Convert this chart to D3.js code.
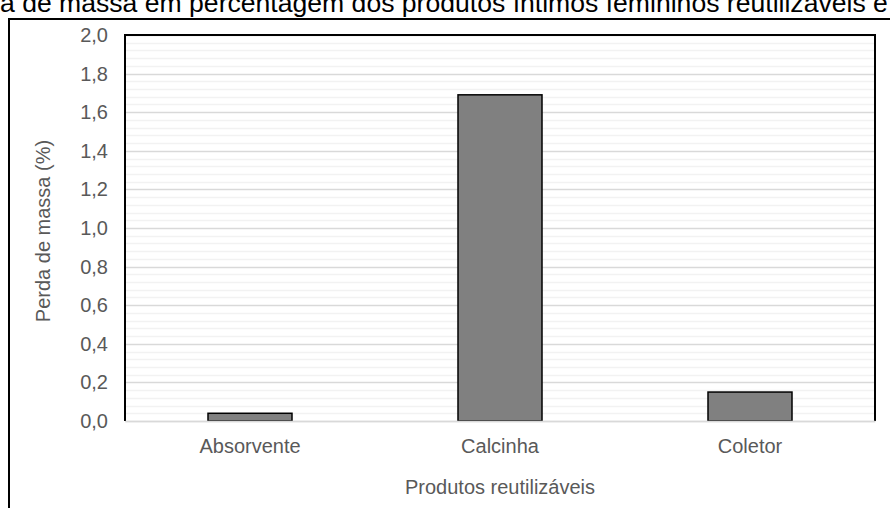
<!DOCTYPE html>
<html><head><meta charset="utf-8">
<script src="https://cdn.jsdelivr.net/npm/d3@7"></script>
<style>body{margin:0;background:#fff}svg{display:block}text{font-family:"Liberation Sans",Arial,sans-serif}</style>
</head><body><svg id="c" width="890" height="508"></svg>
<script>
const categories = ["Absorvente", "Calcinha", "Coletor"];
const values = [0.04, 1.69, 0.15];
const yTicks = [0, 0.2, 0.4, 0.6, 0.8, 1.0, 1.2, 1.4, 1.6, 1.8, 2.0];
const titleText = "a de massa em percentagem dos produtos íntimos femininos reutilizáveis e";
const yTitle = "Perda de massa (%)";
const xTitle = "Produtos reutilizáveis";

const svg = d3.select("#c");
const m = {l:125, t:35, r:875, b:421};
const x = d3.scaleBand().domain(categories).range([m.l, m.r]).paddingInner(0.664).paddingOuter(0.332);
const y = d3.scaleLinear().domain([0, 2]).range([m.b, m.t]);
const FS = 20;

// title (cut off at the top as in the reference)
const tt = svg.append("text").attr("x", 0).attr("y", 12).attr("font-size", 20).attr("fill", "#000").text(titleText);
const w = tt.node().getComputedTextLength();
tt.attr("font-size", 20 * 888 / w);

// outer frame
svg.append("rect").attr("x", 9).attr("y", 19).attr("width", 900).attr("height", 520)
  .attr("fill", "none").attr("stroke", "#000").attr("stroke-width", 2);

// minor grid
const minor = d3.range(0, 2.0001, 0.04).filter(v => Math.abs(Math.round(v*5) - v*5) > 1e-6);
svg.append("g").selectAll("line").data(minor).join("line")
  .attr("x1", m.l).attr("x2", m.r).attr("y1", d => Math.round(y(d)) + 0.5).attr("y2", d => Math.round(y(d)) + 0.5)
  .attr("stroke", "#f2f2f2").attr("stroke-width", 1.5);
// major grid
svg.append("g").selectAll("line").data(yTicks).join("line")
  .attr("x1", m.l).attr("x2", m.r).attr("y1", d => Math.round(y(d)) + 0.5).attr("y2", d => Math.round(y(d)) + 0.5)
  .attr("stroke", "#d9d9d9").attr("stroke-width", 1.5);

// y axis labels
const yAxis = d3.axisLeft(y).tickValues(yTicks).tickSize(0).tickPadding(17)
  .tickFormat(d => d3.format(".1f")(d).replace(".", ","));
const ga = svg.append("g").attr("transform", `translate(${m.l},0)`).call(yAxis);
ga.select(".domain").remove();
ga.selectAll("text").attr("font-size", FS).attr("fill", "#595959").attr("font-family", "Liberation Sans, Arial, sans-serif");

// bars
svg.append("g").selectAll("rect").data(values).join("rect")
  .attr("x", (d,i) => x(categories[i])).attr("width", x.bandwidth())
  .attr("y", d => y(d)).attr("height", d => y(0) - y(d))
  .attr("fill", "#808080").attr("stroke", "#000").attr("stroke-width", 1.5);

// plot border (left, top, right)
svg.append("path").attr("d", `M${m.l},${m.b}V${m.t}H${m.r}V${m.b}`)
  .attr("fill", "none").attr("stroke", "#000").attr("stroke-width", 2);

// x axis labels
const xAxis = d3.axisBottom(x).tickSize(0).tickPadding(18);
const gx = svg.append("g").attr("transform", `translate(0,${m.b})`).call(xAxis);
gx.select(".domain").attr("stroke", "#d9d9d9").attr("stroke-width", 1.5);
gx.selectAll("text").attr("font-size", FS).attr("fill", "#595959").attr("font-family", "Liberation Sans, Arial, sans-serif");

svg.append("text").attr("x", 500).attr("y", 494).attr("text-anchor", "middle")
  .attr("font-size", FS).attr("fill", "#595959").text(xTitle);
svg.append("text").attr("transform", "translate(50,231) rotate(-90)").attr("text-anchor", "middle")
  .attr("font-size", FS).attr("fill", "#595959").text(yTitle);
</script></body></html>
